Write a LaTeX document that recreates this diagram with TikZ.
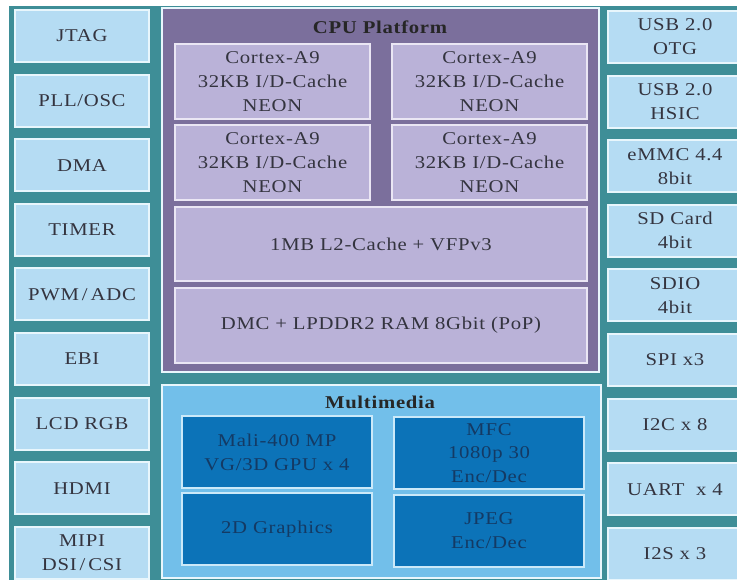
\documentclass[tikz,border=0pt]{standalone}
\usepackage{fontspec}
\setmainfont{Liberation Serif}[FakeStretch=1.15, LetterSpace=4]
\definecolor{teal0}{HTML}{3E8E97}
\definecolor{lblue}{HTML}{B5DCF3}
\definecolor{lbord}{HTML}{E8F6FC}
\definecolor{purp}{HTML}{7B6F9C}
\definecolor{lav}{HTML}{BAB2D8}
\definecolor{lavb}{HTML}{EAE6F4}
\definecolor{mmout}{HTML}{72BFEA}
\definecolor{dblue}{HTML}{0C73B8}
\definecolor{dbord}{HTML}{CBE9F9}
\definecolor{txt}{HTML}{34343F}
\definecolor{navy}{HTML}{143A64}
\tikzset{
  base/.style={inner sep=0pt, align=center, font=\fontsize{18}{24}\selectfont, line width=2pt},
  iobox/.style={base, fill=lblue, draw=lbord, text=txt, minimum width=134, minimum height=52},
  cpuouter/.style={base, fill=purp, draw=lbord},
  cpubox/.style={base, fill=lav, draw=lavb, text=txt},
  mmouter/.style={base, fill=mmout, draw=lbord},
  mmbox/.style={base, fill=dblue, draw=dbord, text=navy, minimum width=190, minimum height=72},
  title/.style={inner sep=0pt, font=\fontsize{18}{24}\selectfont\bfseries, text=black!85}
}
\begin{document}
\begin{tikzpicture}[x=1pt,y=-1pt]
\useasboundingbox (0,0) rectangle (737,579);
\fill[white] (0,0) rectangle (737,579);
\fill[teal0] (9,6) rectangle (745,585);
% left column
\foreach \t [count=\i] in {JTAG, PLL/OSC, DMA, TIMER, PWM\,/\,ADC, EBI, LCD RGB, HDMI, {MIPI\\DSI\,/\,CSI}}
  \node[iobox] (l\i) at (82, {36+64.6*(\i-1)}) {\t};
% right column
\foreach \t [count=\i] in {{USB 2.0\\OTG}, {USB 2.0\\HSIC}, {eMMC 4.4\\8bit}, {SD Card\\4bit}, {SDIO\\4bit}, SPI x3, I2C x 8, UART \ x 4, I2S x 3}
  \node[iobox] (r\i) at (675, {37+64.6*(\i-1)}) {\t};
% CPU platform
\node[cpuouter, minimum width=437, minimum height=364] (cpu) at (380.5,190) {};
\node[title] (cputitle) at (380,27) {CPU Platform};
\node[cpubox, minimum width=195, minimum height=75] (c1) at (272.5,81.5) {Cortex-A9\\32KB I/D-Cache\\NEON};
\node[cpubox, minimum width=195, minimum height=75] (c2) at (489.5,81.5) {Cortex-A9\\32KB I/D-Cache\\NEON};
\node[cpubox, minimum width=195, minimum height=75] (c3) at (272.5,162.5) {Cortex-A9\\32KB I/D-Cache\\NEON};
\node[cpubox, minimum width=195, minimum height=75] (c4) at (489.5,162.5) {Cortex-A9\\32KB I/D-Cache\\NEON};
\node[cpubox, minimum width=412, minimum height=74] (l2c) at (381,244) {1MB L2-Cache + VFPv3};
\node[cpubox, minimum width=412, minimum height=75] (dmc) at (381,325.5) {DMC + LPDDR2 RAM 8Gbit (PoP)};
% Multimedia
\node[mmouter, minimum width=439, minimum height=193] (mm) at (381.5,481.5) {};
\node[title] (mmtitle) at (380,402) {Multimedia};
\node[mmbox] (mali) at (277,452) {Mali-400 MP\\VG/3D GPU x 4};
\node[mmbox, font=\fontsize{18}{23.5}\selectfont] (mfc) at (489,453) {MFC\\1080p 30\\Enc/Dec};
\node[mmbox] (g2d) at (277,529) {2D Graphics};
\node[mmbox] (jpeg) at (489,531) {JPEG\\Enc/Dec};
\end{tikzpicture}
\end{document}
